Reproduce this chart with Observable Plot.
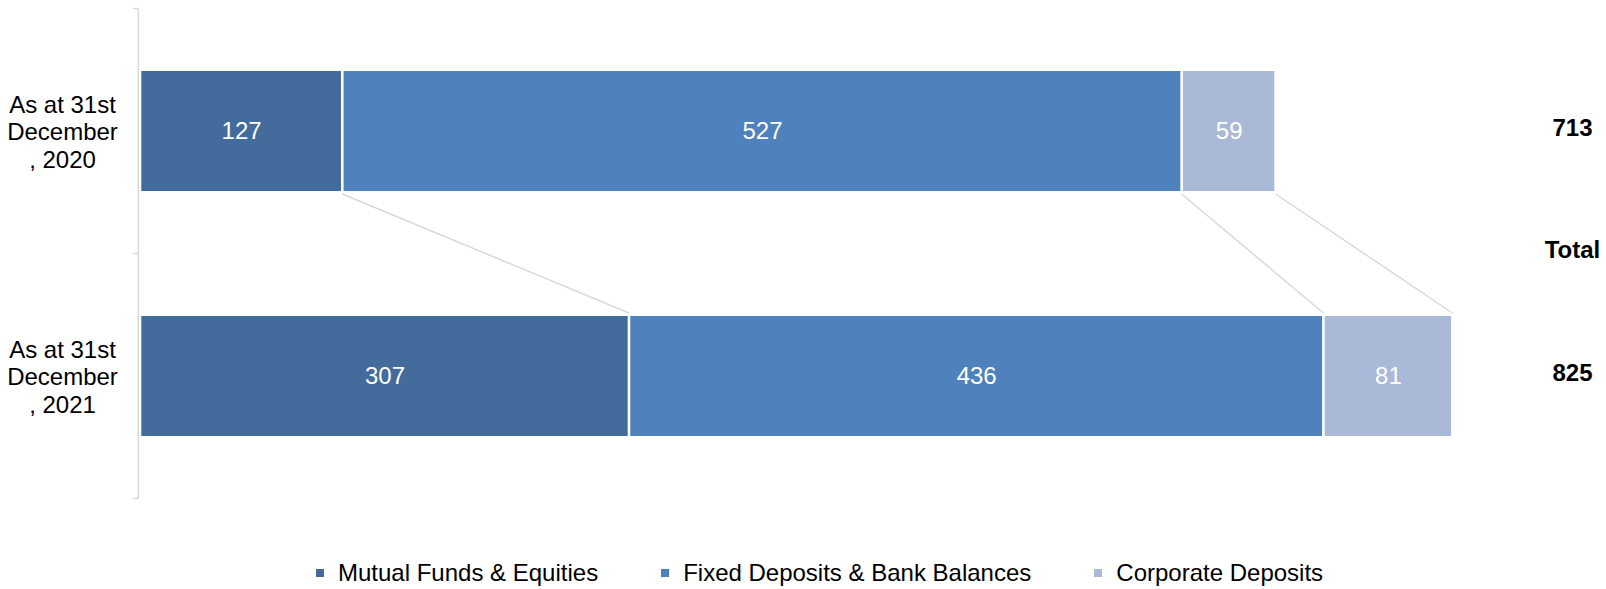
<!DOCTYPE html>
<html>
<head>
<meta charset="utf-8">
<script src="https://cdn.jsdelivr.net/npm/d3@7"></script>
<script src="https://cdn.jsdelivr.net/npm/@observablehq/plot@0.6"></script>
<style>
  html, body { margin: 0; padding: 0; background: #fff; }
  body { width: 1606px; height: 589px; overflow: hidden; font-family: "Liberation Sans", Arial, sans-serif; }
  #legend { display: flex; align-items: center; margin-top: 44px; padding-left: 316px; gap: 63px; font-size: 24px; line-height: 28px; color: #000; }
  #legend .item { display: flex; align-items: center; white-space: nowrap; }
  #legend .sw { width: 8px; height: 8px; margin-right: 14px; }
</style>
</head>
<body>
<div id="chart"></div>
<div id="legend"></div>
<script>
// ---- data ----
const categories = ["As at 31st December, 2020", "As at 31st December, 2021"];
const tickLabels = ["As at 31st\nDecember\n, 2020", "As at 31st\nDecember\n, 2021"];
const series = ["Mutual Funds & Equities", "Fixed Deposits & Bank Balances", "Corporate Deposits"];
const mutualFunds = [127, 307];
const fixedDeposits = [527, 436];
const corporateDeposits = [59, 81];
const totals = [713, 825];
const totalLabel = "Total";
const colors = ["#436B9B", "#4F81BD", "#AAB9D7"];

// ---- build table ----
const seriesValues = [mutualFunds, fixedDeposits, corporateDeposits];
const data = [];
series.forEach((s, si) => categories.forEach((c, ci) => data.push({series: s, cat: c, value: seriesValues[si][ci]})));
const cumulative = categories.map((c, ci) => Array.from(d3.cumsum(seriesValues.map(v => v[ci]))));

// custom mark: category axis (band boundaries) + connector lines, via Plot's scales
function connectors(index, scales, values, dims) {
  const sx = scales.x, sy = scales.y;
  const bw = typeof sy.bandwidth === "function" ? sy.bandwidth() : sy.bandwidth;
  const step = typeof sy.step === "function" ? sy.step() : sy.step;
  const g = d3.create("svg:g").attr("fill", "none");
  // connector lines between the two bars
  for (let k = 0; k < series.length; k++) {
    g.append("line")
      .attr("x1", sx(cumulative[0][k]))
      .attr("y1", sy(categories[0]) + bw + 3)
      .attr("x2", sx(cumulative[1][k]))
      .attr("y2", sy(categories[1]) - 3)
      .attr("stroke", "#d9d9d9")
      .attr("stroke-width", 1.5);
  }
  // category axis
  const ax = sx(0) - 1.7;
  const bounds = categories.map(c => sy(c) - (step - bw) / 2);
  bounds.push(sy(categories[categories.length - 1]) + bw + (step - bw) / 2);
  g.append("line").attr("x1", ax).attr("x2", ax)
    .attr("y1", bounds[0]).attr("y2", bounds[bounds.length - 1])
    .attr("stroke", "#d9d9d9").attr("stroke-width", 1.5);
  bounds.forEach(b => g.append("line").attr("x1", ax - 5.5).attr("x2", ax)
    .attr("y1", b).attr("y2", b).attr("stroke", "#d9d9d9").attr("stroke-width", 1.5));
  return g.node();
}

const totalsData = categories.map((c, i) => ({cat: c, total: totals[i]}));
const tickData = categories.map((c, i) => ({cat: c, label: tickLabels[i]}));

const chart = Plot.plot({
  width: 1606,
  height: 515,
  marginTop: 8,
  marginBottom: 17,
  marginLeft: 140,
  marginRight: 152,
  style: {fontFamily: "'Liberation Sans', Arial, sans-serif", fontSize: "24px", background: "#fff"},
  x: {domain: [0, 825], axis: null},
  y: {domain: categories, paddingInner: 0.512, paddingOuter: 0.256, axis: null},
  color: {domain: series, range: colors},
  marks: [
    connectors,
    Plot.barX(data, {x: "value", y: "cat", fill: "series", insetLeft: 1.3, insetRight: 1.3}),
    Plot.text(data, Plot.stackX({x: "value", y: "cat", z: "series", text: d => String(d.value), fill: "#fff", fontSize: 24})),
    Plot.text(tickData, {y: "cat", text: "label", frameAnchor: "left", dx: -78, textAnchor: "middle", lineHeight: 1.16, fontSize: 24, fill: "#000"}),
    Plot.text(totalsData, {y: "cat", text: d => String(d.total), frameAnchor: "right", dx: 118, dy: -3, textAnchor: "middle", fontSize: 24, fontWeight: "bold", fill: "#000"}),
    Plot.text([totalLabel], {text: d => d, frameAnchor: "right", dx: 118, dy: -3, textAnchor: "middle", fontSize: 24, fontWeight: "bold", fill: "#000"})
  ]
});
document.getElementById("chart").appendChild(chart);

// legend
const legend = d3.select("#legend");
series.forEach((s, i) => {
  const item = legend.append("div").attr("class", "item");
  item.append("div").attr("class", "sw").style("background", colors[i]);
  item.append("span").text(s);
});
</script>
</body>
</html>
